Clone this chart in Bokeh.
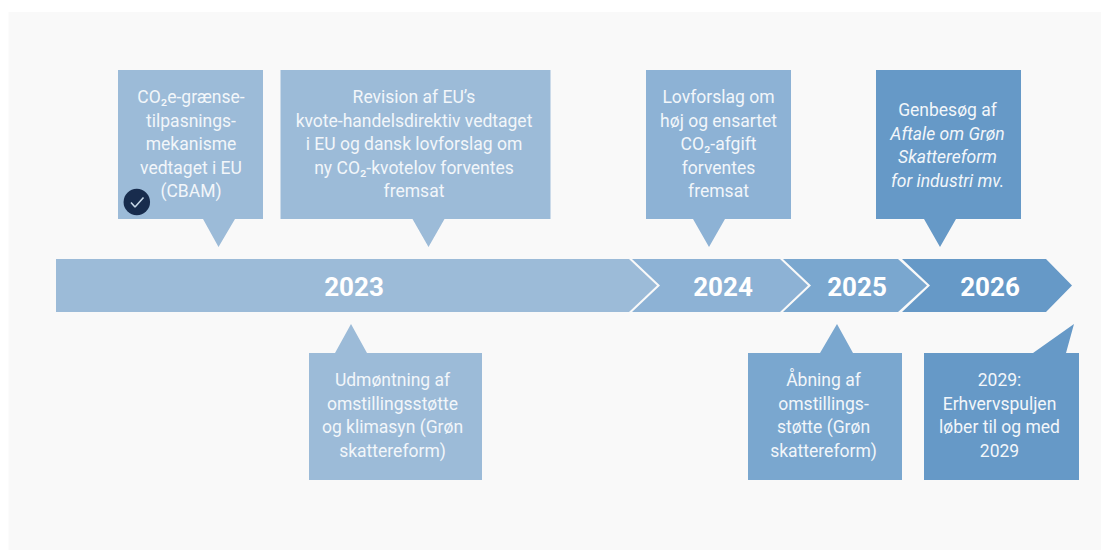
from bokeh.plotting import figure
from bokeh.models import Range1d, ColumnDataSource
from bokeh.core.properties import value
from bokeh.embed import file_html
from bokeh.resources import INLINE

years = ["2023", "2024", "2025", "2026"]
box_texts = [
    ["CO₂e-grænse-", "tilpasnings-", "mekanisme", "vedtaget i EU", "(CBAM)"],
    ["Revision af EU’s", "kvote-handelsdirektiv vedtaget", "i EU og dansk lovforslag om", "ny CO₂-kvotelov forventes", "fremsat"],
    ["Lovforslag om", "høj og ensartet", "CO₂-afgift", "forventes", "fremsat"],
    ["Genbesøg af", "Aftale om Grøn", "Skattereform", "for industri mv."],
    ["Udmøntning af", "omstillingsstøtte", "og klimasyn (Grøn", "skattereform)"],
    ["Åbning af", "omstillings-", "støtte (Grøn", "skattereform)"],
    ["2029:", "Erhvervspuljen", "løber til og med", "2029"],
]
italic_lines = {3: [1, 2, 3]}

# Layout (page pixels)
C1, C2, C3, C4 = "#9cbbd8", "#8db2d5", "#7aa7cf", "#6699c7"
seg_colors = [C1, C2, C3, C4]
seg_left = [56, 632, 783, 902]
seg_right = [629, 780, 898, 1046]
seg_tip = [657, 808, 927, 1072]
seg_label_x = [354, 723, 857, 990]
TOP, BOT, MID = 259, 312, 285.5
NOTCH = 28

box_x0 = [118, 280.5, 646, 876, 309, 748, 924]
box_x1 = [263, 550.5, 791, 1021, 482, 902, 1079]
box_y0 = [70, 70, 70, 70, 353, 353, 353]
box_y1 = [219, 219, 219, 219, 480, 480, 480]
ptr_a = [203, 412.5, 693, 924, 335, 820, 1033]
ptr_b = [235, 444.5, 725, 956, 367, 853, 1066]
ptr_tx = [218.5, 428.5, 709, 940, 351, 837, 1074]
ptr_ty = [247, 247, 247, 247, 324, 324, 324]
box_colors = [C1, C1, C2, C4, C1, C3, C4]
text_x = [191, 414, 718.5, 947.5, 392.5, 823.5, 999.5]
text_y0 = [97, 97, 97, 110, 380, 380, 380]
LINE = 23.6
FONT = "Roboto"

p = figure(width=1112, height=550, x_range=Range1d(0.5, 1112.5), y_range=Range1d(550.5, 0.5),
           output_backend="svg", toolbar_location=None, min_border=0,
           background_fill_color="white", border_fill_color="white", outline_line_color=None)
p.axis.visible = False
p.grid.visible = False

p.quad(left=[8.5], right=[1101], top=[12], bottom=[551], fill_color="#f9f9f9", line_color=None)

xs, ys = [], []
for i in range(4):
    if i == 0:
        xs.append([seg_left[i], seg_right[i], seg_tip[i], seg_right[i], seg_left[i]])
        ys.append([TOP, TOP, MID, BOT, BOT])
    else:
        xs.append([seg_left[i], seg_right[i], seg_tip[i], seg_right[i], seg_left[i], seg_left[i] + NOTCH])
        ys.append([TOP, TOP, MID, BOT, BOT, MID])
p.patches(xs, ys, fill_color=seg_colors, line_color=None)

bx, by = [], []
for i in range(len(box_texts)):
    x0, x1, y0, y1 = box_x0[i], box_x1[i], box_y0[i], box_y1[i]
    if ptr_ty[i] > y1:
        bx.append([x0, x1, x1, ptr_b[i], ptr_tx[i], ptr_a[i], x0])
        by.append([y0, y0, y1, y1, ptr_ty[i], y1, y1])
    else:
        bx.append([x0, ptr_a[i], ptr_tx[i], ptr_b[i], x1, x1, x0])
        by.append([y0, y0, ptr_ty[i], y0, y0, y1, y1])
p.patches(bx, by, fill_color=box_colors, line_color=None)

p.text(seg_label_x, [MID + 1] * 4, text=years, text_color="white", text_font=value(FONT),
       text_font_size="26px", text_font_style="bold", text_align="center", text_baseline="middle")

for i, lines in enumerate(box_texts):
    it = italic_lines.get(i, [])
    for style in ("normal", "italic"):
        idx = [k for k in range(len(lines)) if (k in it) == (style == "italic")]
        if not idx:
            continue
        src = ColumnDataSource(dict(x=[text_x[i]] * len(idx),
                                    y=[text_y0[i] + k * LINE for k in idx],
                                    t=[lines[k] for k in idx]))
        p.text("x", "y", text="t", source=src, text_color="#f2f6fa", text_font=value(FONT),
               text_font_size="17.5px", text_font_style=style, text_align="center", text_baseline="middle")

# check badge
p.ellipse([136.8], [202], width=[26.5], height=[26.5], fill_color="#182c4d", line_color=None)
p.line([131, 135, 143.5], [202.5, 207, 197.5], line_color="#c5d6e6", line_width=1.6)

open("out.html", "w").write(file_html(p, INLINE))
